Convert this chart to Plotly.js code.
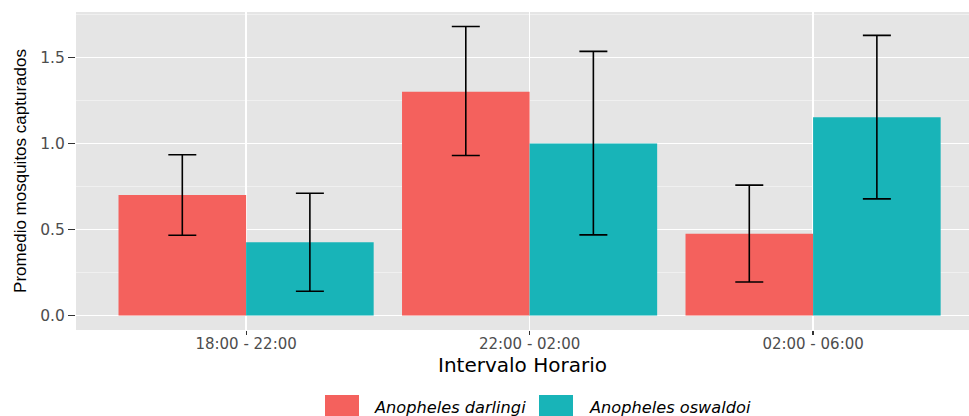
<!DOCTYPE html>
<html>
<head>
<meta charset="utf-8">
<script src="https://cdn.plot.ly/plotly-3.0.1.min.js"></script>
<style>html,body{margin:0;padding:0;background:#fff;}#chart{width:969px;height:416px;}</style>
</head>
<body>
<div id="chart"></div>
<script>
// Data
var categories = ["18:00 - 22:00", "22:00 - 02:00", "02:00 - 06:00"];
var seriesNames = ["Anopheles darlingi", "Anopheles oswaldoi"];
var darlingiMean = [0.70, 1.30, 0.475];
var darlingiUpper = [0.934, 1.68, 0.758];
var darlingiLower = [0.467, 0.93, 0.195];
var oswaldoiMean = [0.426, 1.00, 1.152];
var oswaldoiUpper = [0.711, 1.535, 1.628];
var oswaldoiLower = [0.141, 0.469, 0.678];
var yTickVals = [0.0, 0.5, 1.0, 1.5];
var yTickText = ["0.0", "0.5", "1.0", "1.5"];

var colors = ["#F4615D", "#18B4B8"];
var W = 969, H = 416, L = 76, R = 0, T = 12, B = 86;
var pw = W - L - R, ph = H - T - B;
function px2x(p){ return (p - L) / pw; }
function px2y(p){ return (H - B - p) / ph; }

function mk(name, mean, up, lo, color){
  return {
    type: "bar", name: name, x: categories, y: mean,
    marker: {color: color, line: {width: 0}},
    error_y: {type: "data", symmetric: false,
      array: mean.map(function(v,i){ return up[i] - v; }),
      arrayminus: mean.map(function(v,i){ return v - lo[i]; }),
      color: "#000000", thickness: 1.6, width: 14},
    showlegend: false, hoverinfo: "skip"
  };
}
var data = [
  mk(seriesNames[0], darlingiMean, darlingiUpper, darlingiLower, colors[0]),
  mk(seriesNames[1], oswaldoiMean, oswaldoiUpper, oswaldoiLower, colors[1])
];

var font = "DejaVu Sans, Liberation Sans, Arial, sans-serif";
var fontNarrow = "Liberation Sans, Arial, Helvetica, sans-serif";
var shapes = [], annotations = [];
var keyX = [325, 539], textX = [372, 587];
for (var i = 0; i < seriesNames.length; i++) {
  shapes.push({type: "rect", xref: "paper", yref: "paper",
    x0: px2x(keyX[i]), x1: px2x(keyX[i] + 34), y0: px2y(395), y1: px2y(430),
    fillcolor: colors[i], line: {width: 0}});
  annotations.push({xref: "paper", yref: "paper", x: px2x(textX[i]), y: px2y(407),
    xanchor: "left", yanchor: "middle", showarrow: false,
    text: "<i>" + seriesNames[i] + "</i>",
    font: {family: font, size: 16.2, color: "#000000"}});
}

var layout = {
  width: W, height: H,
  margin: {l: L, r: R, t: T, b: B, pad: 0},
  paper_bgcolor: "#ffffff", plot_bgcolor: "#E5E5E5",
  font: {family: font},
  barmode: "group", bargap: 0.1, bargroupgap: 0,
  showlegend: false,
  xaxis: {
    type: "category", range: [-0.6, 2.55],
    showgrid: true, gridcolor: "#ffffff", gridwidth: 1.4,
    zeroline: false, showline: false,
    ticks: "outside", ticklen: 4, tickcolor: "#333333", tickwidth: 1.2,
    ticklabelstandoff: -4,
    tickfont: {family: font, size: 15, color: "#4D4D4D"},
    title: {text: "Intervalo Horario", font: {family: font, size: 20, color: "#000000"}, standoff: 0},
    fixedrange: true
  },
  yaxis: {
    range: [-0.084, 1.764],
    tickvals: yTickVals, ticktext: yTickText,
    showgrid: true, gridcolor: "#ffffff", gridwidth: 1.4,
    minor: {tickvals: [0.25, 0.75, 1.25, 1.75], showgrid: true, gridcolor: "#F2F2F2", gridwidth: 0.8, ticks: ""},
    zeroline: false, showline: false,
    ticks: "outside", ticklen: 7, tickcolor: "#333333", tickwidth: 1.2,
    tickfont: {family: font, size: 15.5, color: "#4D4D4D"},
    title: {text: "Promedio mosquitos capturados", font: {family: fontNarrow, size: 17, color: "#000000"}, standoff: 9},
    fixedrange: true
  },
  shapes: shapes,
  annotations: annotations
};

Plotly.newPlot("chart", data, layout, {displayModeBar: false, staticPlot: true});
</script>
</body>
</html>
